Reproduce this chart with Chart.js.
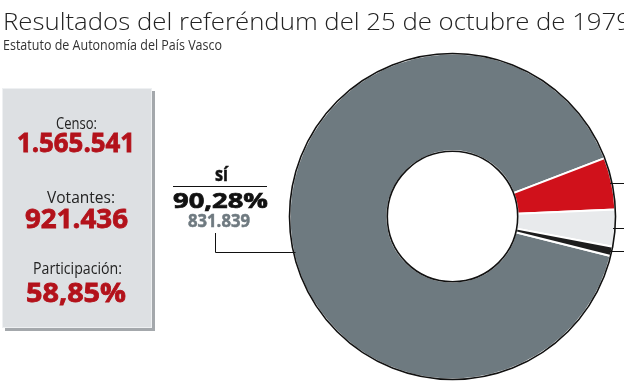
<!DOCTYPE html>
<html>
<head>
<meta charset="utf-8">
<script src="https://cdn.jsdelivr.net/npm/chart.js@4.4.1/dist/chart.umd.min.js"></script>
<style>
  html, body { margin: 0; padding: 0; background: #fff; }
  #wrap { position: relative; width: 624px; height: 385px; overflow: hidden; font-family: "Open Sans", "Noto Sans", sans-serif; }
  #chart { position: absolute; left: 0; top: 0; }
  .txt { position: absolute; white-space: nowrap; transform-origin: left top; line-height: 1; }
  #panel { position: absolute; left: 2px; top: 88px; width: 150px; height: 240px; background: #dde0e3;
           border: 1px solid #eef0f2; box-shadow: 3px 3px 0 #a4a8ac; box-sizing: border-box; }
</style>
</head>
<body>
<div id="wrap">
  <div id="panel"></div>
  <canvas id="chart" width="624" height="385"></canvas>
</div>
<script>
// referendum results (Estatuto de Autonomía, 1979)
const labels = ["Sí", "No", "En blanco", "Nulos"];
const votes = [831839, 47355, 33868, 8374];
const colors = ["#6e7a80", "#d0111b", "#e8eaec", "#1d1d1d"];

// left panel figures
const statLabels = ["Censo:", "Votantes:", "Participación:"];
const statValues = ["1.565.541", "921.436", "58,85%"];

// callout for the main slice
const mainLabel = "sí";
const mainPct = "90,28%";
const mainVotes = "831.839";

const wrap = document.getElementById("wrap");

// place a text by its baseline and squeeze it to the wanted width
function addText(str, x, baseline, width, size, opts = {}) {
  const el = document.createElement("div");
  el.className = "txt";
  el.textContent = str;
  el.style.fontSize = size + "px";
  el.style.fontWeight = opts.weight || 400;
  el.style.color = opts.color || "#1a1a1a";
  if (opts.heavy) el.style.webkitTextStroke = opts.heavy + "px " + (opts.color || "#1a1a1a");
  el.style.left = x + "px";
  el.style.top = (baseline - 0.888 * size) + "px";
  wrap.appendChild(el);
  const w = el.getBoundingClientRect().width;
  el.style.transform = `scaleX(${width / w})`;
  return el;
}

addText("Resultados del referéndum del 25 de octubre de 1979", 3, 30, 628, 24, { weight: 300, color: "#222" });
addText("Estatuto de Autonomía del País Vasco", 3, 50.5, 219, 15, { color: "#333" });

// panel
const labelPos = [[56, 129, 41], [47, 203, 68], [33, 274, 89]];
const valuePos = [[17, 152, 118], [25, 228, 103], [26, 302, 100]];
statLabels.forEach((s, i) => addText(s, labelPos[i][0], labelPos[i][1], labelPos[i][2], 17, { color: "#222" }));
statValues.forEach((s, i) => addText(s, valuePos[i][0], valuePos[i][1], valuePos[i][2], 27, { weight: 700, color: "#b3121b", heavy: 0.8 }));

// Sí callout
addText(mainLabel, 215, 182, 13, 20, { weight: 700, color: "#111", heavy: 0.5 });
addText(mainPct, 173, 208, 95, 22, { weight: 700, color: "#111", heavy: 0.7 });
addText(mainVotes, 188, 227, 62, 18, { weight: 700, color: "#6f7a80", heavy: 0.5 });

// outline rings + leader lines
const decor = {
  id: "decor",
  afterDatasetsDraw(chart) {
    const arcs = chart.getDatasetMeta(0).data;
    const { x, y, outerRadius, innerRadius } = arcs[0];
    const ctx = chart.ctx;
    ctx.save();
    ctx.strokeStyle = "#111";
    ctx.lineWidth = 1.6;
    ctx.beginPath();
    ctx.arc(x, y, outerRadius, 0, Math.PI * 2);
    ctx.stroke();
    ctx.beginPath();
    ctx.arc(x, y, innerRadius, 0, Math.PI * 2);
    ctx.stroke();

    ctx.lineWidth = 1;
    // small slices point off to the right
    arcs.slice(1).forEach(a => {
      const mid = (a.startAngle + a.endAngle) / 2;
      const py = Math.round(y + outerRadius * Math.sin(mid)) + 0.5;
      const px = x + Math.sqrt(outerRadius * outerRadius - (py - y) * (py - y));
      ctx.beginPath();
      ctx.moveTo(px - 2, py);
      ctx.lineTo(chart.width, py);
      ctx.stroke();
    });

    // the Sí callout
    const ly = 252.5;
    const lx = x - Math.sqrt(outerRadius * outerRadius - (ly - y) * (ly - y));
    ctx.beginPath();
    ctx.moveTo(215.5, 233);
    ctx.lineTo(215.5, ly);
    ctx.lineTo(lx + 2, ly);
    ctx.stroke();
    // rule under "sí"
    ctx.beginPath();
    ctx.moveTo(173, 186.5);
    ctx.lineTo(267, 186.5);
    ctx.stroke();
    ctx.restore();
  }
};

new Chart(document.getElementById("chart"), {
  type: "doughnut",
  data: {
    labels: labels,
    datasets: [{
      data: votes,
      backgroundColor: colors,
      borderColor: "#ffffff",
      borderWidth: 2
    }]
  },
  options: {
    responsive: false,
    animation: false,
    cutout: "40%",
    rotation: 104,
    layout: { padding: { left: 288.5, right: 7.5, top: 52.5, bottom: 4.5 } },
    plugins: {
      legend: { display: false },
      tooltip: { enabled: false }
    }
  },
  plugins: [decor]
});
</script>
</body>
</html>
